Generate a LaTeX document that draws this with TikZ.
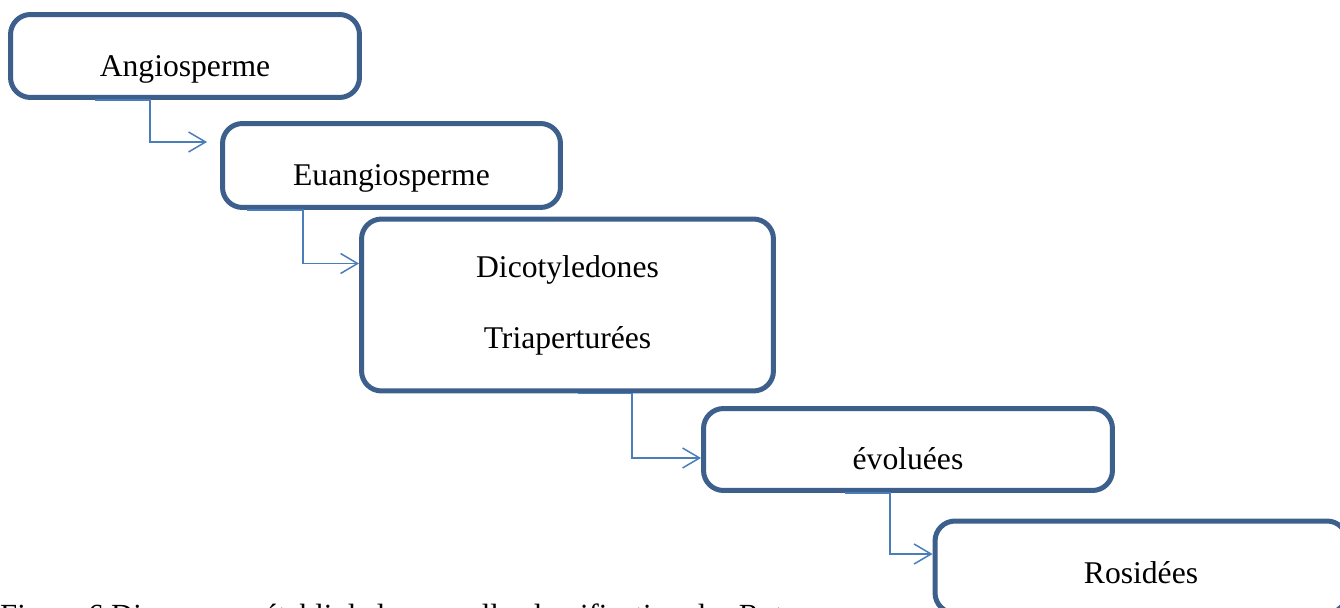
\documentclass[tikz,border=0pt]{standalone}
\usepackage{fontspec}
\setmainfont{Liberation Serif}
\usetikzlibrary{arrows.meta}
\definecolor{boxblue}{RGB}{60,95,140}
\definecolor{linkblue}{RGB}{74,126,187}
\tikzset{
	taxon/.style={draw=boxblue, line width=0.1cm, rounded corners=0.4cm, fill=white, align=center, inner sep=0pt},
	oneline/.style={taxon, text height=0.95cm, text depth=0.13cm},
	link/.style={draw=linkblue, line width=0.03cm, -{Straight Barb[length=0.34cm,width=0.4cm]}}
}
\begin{document}
\begin{tikzpicture}[x=0.02cm, y=-0.02cm, font=\fontsize{18}{21.6}\selectfont]
		\useasboundingbox (0,0) rectangle (1340,608);
		\clip (0,0) rectangle (1340,608);

		\node[anchor=base west, font=\fontsize{17.5}{21}\selectfont] (caption) at (-6,625) {Figure 6 Diagramme établi de la nouvelle classification des Rutaceae};

		\node[oneline, minimum width=6.98cm, minimum height=1.66cm] (angio) at (185,56) {Angiosperme};
		\node[oneline, minimum width=6.76cm, minimum height=1.68cm] (euangio) at (391.5,165.5) {Euangiosperme};
		\node[taxon, minimum width=8.24cm, minimum height=3.44cm] (dicot) at (567.5,305) {Dicotyledones\\[0.66cm]Triaperturées};
		\node[oneline, minimum width=8.18cm, minimum height=1.64cm] (evol) at (908,449.5) {évoluées};
		\node[oneline, minimum width=8.24cm, minimum height=1.84cm, text height=0.8cm] (rosid) at (1141,567) {Rosidées};

		\foreach \from / \to / \sx / \run / \ex / \ey in {angio/euangio/1.74/1.1/-0.26/0.47, euangio/dicot/0.54/1.12/0/0.83, dicot/evol/4.38/1.08/0/-0.17, evol/rosid/2.88/0.9/0/0.26}
			\draw[link] ([xshift=\sx cm]\from.south west) -- ++(\run cm,0) |- ([xshift=\ex cm, yshift=\ey cm]\to.west);
\end{tikzpicture}
\end{document}
